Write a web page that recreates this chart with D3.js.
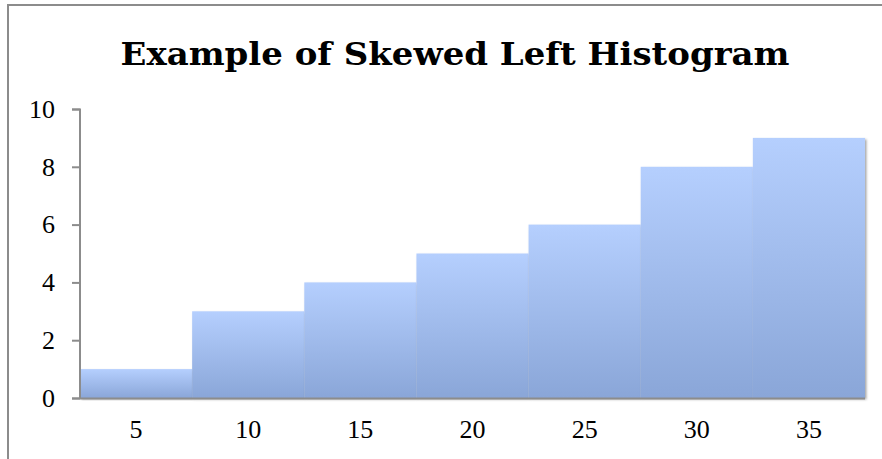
<!DOCTYPE html>
<html>
<head>
<meta charset="utf-8">
<script src="https://cdn.jsdelivr.net/npm/d3@7"></script>
<style>
  body { margin: 0; background: #fff; }
  text { fill: #000; }
</style>
</head>
<body>
<div class="canvas"></div>
<script>
// data
const bins = ['5', '10', '15', '20', '25', '30', '35'];
const counts = [1, 3, 4, 5, 6, 8, 9];
const yTicks = [0, 2, 4, 6, 8, 10];
const title = 'Example of Skewed Left Histogram';

// set up dimensions
const width = 882;
const height = 459;
const margin = { top: 109, right: 17, bottom: 61, left: 80 };
const graphWidth = width - margin.left - margin.right;
const graphHeight = height - margin.top - margin.bottom;

const svg = d3
  .select('.canvas')
  .append('svg')
  .attr('width', width)
  .attr('height', height);

// bar gradient + soft shadow
const defs = svg.append('defs');
const grad = defs
  .append('linearGradient')
  .attr('id', 'barFill')
  .attr('x1', 0).attr('y1', 0)
  .attr('x2', 0).attr('y2', 1);
grad.append('stop').attr('offset', '0%').attr('stop-color', '#b5cffe');
grad.append('stop').attr('offset', '100%').attr('stop-color', '#8aa6d8');

const shadow = defs.append('filter').attr('id', 'shadow')
  .attr('x', '-5%').attr('y', '-5%').attr('width', '115%').attr('height', '115%');
shadow.append('feDropShadow')
  .attr('dx', 1.5).attr('dy', 1.5)
  .attr('stdDeviation', 1)
  .attr('flood-color', '#000')
  .attr('flood-opacity', 0.35);

// outer frame (only left and top edges show)
svg.append('path')
  .attr('d', `M8,${height} V5 H${width}`)
  .attr('fill', 'none')
  .attr('stroke', '#8c8c8c')
  .attr('stroke-width', 2);

// title - fit to the width of the original
svg.append('text')
  .attr('x', 455)
  .attr('y', 65)
  .attr('text-anchor', 'middle')
  .style('font-family', '"DejaVu Serif", serif')
  .style('font-size', '31px')
  .style('font-weight', 'bold')
  .attr('textLength', 669)
  .attr('lengthAdjust', 'spacingAndGlyphs')
  .text(title);

const graph = svg
  .append('g')
  .attr('transform', `translate(${margin.left}, ${margin.top})`);

// scales
const x = d3.scaleBand().domain(bins).range([0, graphWidth]).padding(0);
const y = d3.scaleLinear().domain([0, 10]).range([graphHeight, 0]);

// bars
graph.selectAll('rect.bar')
  .data(counts)
  .enter()
  .append('rect')
  .attr('class', 'bar')
  .attr('x', (d, i) => x(bins[i]))
  .attr('y', d => y(d))
  .attr('width', x.bandwidth())
  .attr('height', d => graphHeight - y(d))
  .attr('fill', 'url(#barFill)')
  .attr('filter', 'url(#shadow)');

// axes
const yAxis = d3.axisLeft(y).tickValues(yTicks).tickSize(8).tickPadding(17);
const xAxis = d3.axisBottom(x).tickSize(0).tickPadding(22);

const yAxisGroup = graph.append('g').attr('class', 'y-axis').call(yAxis);
const xAxisGroup = graph.append('g')
  .attr('class', 'x-axis')
  .attr('transform', `translate(0, ${graphHeight})`)
  .call(xAxis);

// x axis baseline extends left to meet the 0 tick
xAxisGroup.select('.domain')
  .attr('d', `M-8,0.5H${graphWidth}`);

[yAxisGroup, xAxisGroup].forEach(g => {
  g.selectAll('.domain, .tick line').attr('stroke', '#8c8c8c').attr('stroke-width', 2);
  g.selectAll('text')
    .style('font-family', '"Liberation Serif", serif')
    .style('font-size', '26px')
    .attr('fill', '#000');
});
yAxisGroup.selectAll('.domain').attr('d', `M-8,0.5H0V${graphHeight}`);
</script>
</body>
</html>
